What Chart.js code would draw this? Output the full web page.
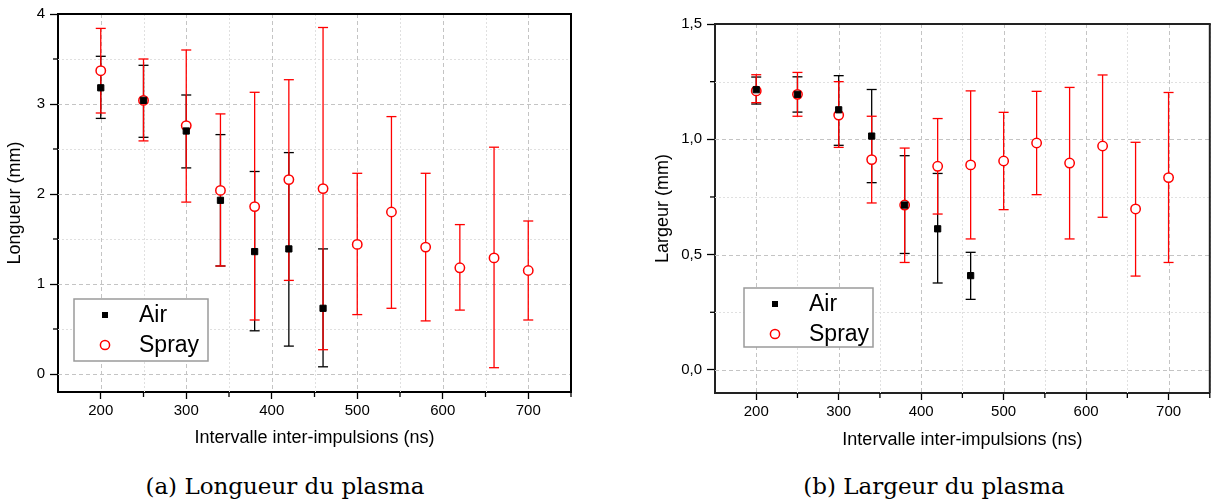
<!DOCTYPE html>
<html lang="fr">
<head>
<meta charset="utf-8">
<title>Longueur et largeur du plasma</title>
<script src="https://cdn.jsdelivr.net/npm/chart.js@4.4.1/dist/chart.umd.min.js"></script>
<style>
    body { margin: 0; background: #fff; }
    #page { position: relative; width: 1216px; height: 502px; overflow: hidden; }
    canvas { position: absolute; top: 0; }
    #graphA { left: 0; }
    #graphB { left: 608px; }
    .legende-figure {
        position: absolute; top: 473px;
        font-family: "DejaVu Serif", serif; font-size: 23px; color: #000;
        white-space: nowrap; transform: translateX(-50%);
    }
</style>
</head>
<body>
<div id="page">
    <canvas id="graphA" width="600" height="460"></canvas>
    <canvas id="graphB" width="608" height="460"></canvas>
    <div class="legende-figure" style="left:285px">(a) Longueur du plasma</div>
    <div class="legende-figure" style="left:934px">(b) Largeur du plasma</div>
</div>
<script>
// ==========================================
//  DONNÉES
// ==========================================
const intervallesAir = [200, 250, 300, 340, 380, 420, 460];
const intervallesSpray = [200, 250, 300, 340, 380, 420, 460, 500, 540, 580, 620, 660, 700];

// (a) Longueur (mm)
const airLongueur = [3.18, 3.04, 2.70, 1.93, 1.36, 1.39, 0.73];
const airLongueurHaut = [3.53, 3.43, 3.10, 2.66, 2.25, 2.46, 1.39];
const airLongueurBas = [2.84, 2.63, 2.29, 1.20, 0.48, 0.31, 0.08];
const sprayLongueur = [3.37, 3.04, 2.76, 2.04, 1.86, 2.16, 2.06, 1.44, 1.80, 1.41, 1.18, 1.29, 1.15];
const sprayLongueurHaut = [3.84, 3.50, 3.60, 2.89, 3.13, 3.27, 3.85, 2.23, 2.86, 2.23, 1.66, 2.52, 1.70];
const sprayLongueurBas = [2.90, 2.59, 1.91, 1.20, 0.60, 1.04, 0.27, 0.66, 0.73, 0.59, 0.71, 0.07, 0.60];

// (b) Largeur (mm)
const airLargeur = [1.215, 1.195, 1.128, 1.014, 0.715, 0.612, 0.409];
const airLargeurHaut = [1.270, 1.271, 1.276, 1.216, 0.929, 0.852, 0.510];
const airLargeurBas = [1.153, 1.118, 0.974, 0.812, 0.505, 0.377, 0.306];
const sprayLargeur = [1.210, 1.195, 1.105, 0.912, 0.715, 0.883, 0.889, 0.906, 0.984, 0.897, 0.971, 0.698, 0.834];
const sprayLargeurHaut = [1.280, 1.290, 1.250, 1.100, 0.962, 1.090, 1.210, 1.117, 1.208, 1.225, 1.279, 0.987, 1.203];
const sprayLargeurBas = [1.159, 1.100, 0.965, 0.724, 0.466, 0.676, 0.568, 0.695, 0.760, 0.568, 0.662, 0.407, 0.466];

// Graduations
const xGraduations = [200, 300, 400, 500, 600, 700];
const xGraduationsMineures = [250, 350, 450, 550, 650, 750];
const yGraduationsA = [0, 1, 2, 3, 4];
const yGraduationsMineuresA = [0.5, 1.5, 2.5, 3.5];
const yGraduationsB = [0, 0.5, 1.0, 1.5];
const yGraduationsMineuresB = [0.25, 0.75, 1.25];

const nomsSeries = ['Air', 'Spray'];
const titreX = 'Intervalle inter-impulsions (ns)';

Chart.defaults.font.family = "'Liberation Sans', Arial, sans-serif";
Chart.defaults.font.size = 15;
Chart.defaults.color = '#000';

const ROUGE = '#ff0000';

// ==========================================
//  PLUGIN : grille, barres d'erreur, cadre, légende
// ==========================================
const decorPlugin = {
    id: 'decor',
    beforeDatasetsDraw(chart, args, opts) {
        const { ctx, chartArea: a, scales: { x, y } } = chart;
        ctx.save();
        const trait = (x1, y1, x2, y2) => { ctx.beginPath(); ctx.moveTo(x1, y1); ctx.lineTo(x2, y2); ctx.stroke(); };

        // grille mineure (pointillés)
        ctx.lineWidth = 1;
        ctx.strokeStyle = '#e0e0e0';
        ctx.setLineDash([2, 2]);
        opts.xMineures.forEach(v => { const p = Math.round(x.getPixelForValue(v)) + 0.5; trait(p, a.top, p, a.bottom); });
        opts.yMineures.forEach(v => { const p = Math.round(y.getPixelForValue(v)) + 0.5; trait(a.left, p, a.right, p); });

        // grille majeure (tirets)
        ctx.strokeStyle = '#c4c4c4';
        ctx.setLineDash([4, 3]);
        opts.xMajeures.forEach(v => { const p = Math.round(x.getPixelForValue(v)) + 0.5; trait(p, a.top, p, a.bottom); });
        opts.yMajeures.forEach(v => { const p = Math.round(y.getPixelForValue(v)) + 0.5; trait(a.left, p, a.right, p); });

        // barres d'erreur
        ctx.setLineDash([]);
        ctx.lineWidth = 1.3;
        opts.erreurs.forEach(e => {
            ctx.strokeStyle = e.couleur;
            e.xs.forEach((v, i) => {
                const px = x.getPixelForValue(v);
                const pHaut = y.getPixelForValue(e.haut[i]);
                const pBas = y.getPixelForValue(e.bas[i]);
                trait(px, pHaut, px, pBas);
                trait(px - 5, pHaut, px + 5, pHaut);
                trait(px - 5, pBas, px + 5, pBas);
            });
        });
        ctx.restore();
    },
    afterDraw(chart, args, opts) {
        const { ctx, chartArea: a, scales: { x, y } } = chart;
        ctx.save();
        const trait = (x1, y1, x2, y2) => { ctx.beginPath(); ctx.moveTo(x1, y1); ctx.lineTo(x2, y2); ctx.stroke(); };

        // cadre haut et droit
        ctx.strokeStyle = opts.couleurCadre;
        ctx.lineWidth = 2;
        trait(a.left - 1, a.top, a.right + 1, a.top);
        trait(a.right, a.top, a.right, a.bottom);

        // graduations mineures vers l'extérieur
        ctx.strokeStyle = '#000';
        ctx.lineWidth = 1.3;
        opts.xMineures.forEach(v => { const p = x.getPixelForValue(v); trait(p, a.bottom, p, a.bottom + 5); });
        opts.yMineures.forEach(v => { const p = y.getPixelForValue(v); trait(a.left - 5, p, a.left, p); });

        // légende encadrée
        const L = opts.legende;
        const bx = a.left + L.x, by = a.top + L.y;
        ctx.fillStyle = '#fff';
        ctx.fillRect(bx, by, L.w, L.h);
        ctx.strokeStyle = '#9a9a9a';
        ctx.lineWidth = 1.5;
        ctx.strokeRect(bx, by, L.w, L.h);

        const ligneAir = by + 16, ligneSpray = by + 46, xMarque = bx + 31;
        ctx.fillStyle = '#000';
        ctx.fillRect(xMarque - 3, ligneAir - 3, 6, 6);
        ctx.beginPath();
        ctx.arc(xMarque, ligneSpray, 4.6, 0, Math.PI * 2);
        ctx.strokeStyle = ROUGE;
        ctx.lineWidth = 1.5;
        ctx.stroke();

        ctx.fillStyle = '#000';
        ctx.font = "23px 'Liberation Sans', Arial, sans-serif";
        ctx.textBaseline = 'middle';
        ctx.fillText(nomsSeries[0], bx + 65, ligneAir + 1);
        ctx.fillText(nomsSeries[1], bx + 65, ligneSpray + 1);
        ctx.restore();
    }
};

function points(xs, ys) {
    return xs.map((v, i) => ({ x: v, y: ys[i] }));
}

function creerGraphe(id, cfg) {
    return new Chart(document.getElementById(id), {
        type: 'scatter',
        data: {
            datasets: [
                {
                    label: nomsSeries[0],
                    data: points(intervallesAir, cfg.air),
                    pointStyle: 'rect',
                    pointRadius: 4.4,
                    pointHoverRadius: 4.4,
                    backgroundColor: '#000',
                    borderColor: '#000',
                    borderWidth: 1
                },
                {
                    label: nomsSeries[1],
                    data: points(intervallesSpray, cfg.spray),
                    pointStyle: 'circle',
                    pointRadius: 4.7,
                    pointHoverRadius: 4.7,
                    backgroundColor: '#fff',
                    borderColor: ROUGE,
                    borderWidth: 1.5
                }
            ]
        },
        options: {
            responsive: false,
            animation: false,
            events: [],
            layout: { padding: cfg.marges },
            plugins: {
                legend: { display: false },
                tooltip: { enabled: false },
                decor: {
                    xMajeures: xGraduations,
                    xMineures: xGraduationsMineures,
                    yMajeures: cfg.yMajeures,
                    yMineures: cfg.yMineures,
                    couleurCadre: cfg.couleurCadre,
                    legende: cfg.legende,
                    erreurs: [
                        { xs: intervallesAir, haut: cfg.airHaut, bas: cfg.airBas, couleur: '#000' },
                        { xs: intervallesSpray, haut: cfg.sprayHaut, bas: cfg.sprayBas, couleur: ROUGE }
                    ]
                }
            },
            scales: {
                x: {
                    type: 'linear',
                    min: 150,
                    max: 750,
                    afterBuildTicks: s => { s.ticks = xGraduations.map(v => ({ value: v })); },
                    afterFit: s => { s.height = cfg.hauteurX; },
                    ticks: { padding: 3, maxRotation: 0, callback: v => String(v) },
                    grid: { drawOnChartArea: false, tickLength: 7, tickColor: '#000', tickWidth: 1.3 },
                    border: { color: cfg.couleurCadre, width: 2 },
                    title: { display: true, text: titreX, font: { size: 18 }, padding: { top: 0, bottom: cfg.padTitreX } }
                },
                y: {
                    type: 'linear',
                    min: cfg.yMin,
                    max: cfg.yMax,
                    afterBuildTicks: s => { s.ticks = cfg.yMajeures.map(v => ({ value: v })); },
                    afterFit: s => { s.width = cfg.largeurY; },
                    ticks: { padding: 5, callback: cfg.formatY },
                    grid: { drawOnChartArea: false, tickLength: 8, tickColor: '#000', tickWidth: 1.3 },
                    border: { color: cfg.couleurCadre, width: 2 },
                    title: { display: true, text: cfg.titreY, font: { size: 18 }, padding: { top: 4, bottom: 0 } }
                }
            }
        },
        plugins: [decorPlugin]
    });
}

// ==========================================
//  (a) LONGUEUR DU PLASMA
// ==========================================
creerGraphe('graphA', {
    air: airLongueur, airHaut: airLongueurHaut, airBas: airLongueurBas,
    spray: sprayLongueur, sprayHaut: sprayLongueurHaut, sprayBas: sprayLongueurBas,
    yMin: -0.2, yMax: 4,
    yMajeures: yGraduationsA, yMineures: yGraduationsMineuresA,
    formatY: v => String(v),
    titreY: 'Longueur (mm)',
    marges: { left: 0, top: 14, right: 29, bottom: 0 },
    largeurY: 58, hauteurX: 68, padTitreX: 11,
    couleurCadre: '#000',
    legende: { x: 16, y: 285, w: 134, h: 62 }
});

// ==========================================
//  (b) LARGEUR DU PLASMA
// ==========================================
creerGraphe('graphB', {
    air: airLargeur, airHaut: airLargeurHaut, airBas: airLargeurBas,
    spray: sprayLargeur, sprayHaut: sprayLargeurHaut, sprayBas: sprayLargeurBas,
    yMin: -0.1, yMax: 1.5,
    yMajeures: yGraduationsB, yMineures: yGraduationsMineuresB,
    formatY: v => v.toFixed(1).replace('.', ','),
    titreY: 'Largeur (mm)',
    marges: { left: 40, top: 24, right: 0, bottom: 0 },
    largeurY: 67, hauteurX: 67, padTitreX: 9,
    couleurCadre: '#222',
    legende: { x: 29, y: 264, w: 129, h: 59 }
});
</script>
</body>
</html>
